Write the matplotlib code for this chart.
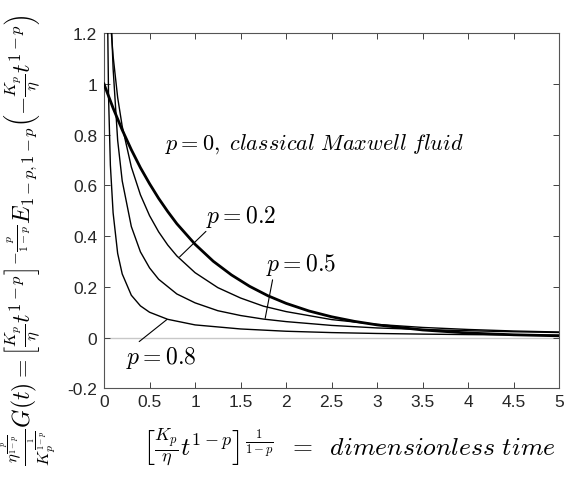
import matplotlib
matplotlib.use('Agg')
import matplotlib.pyplot as plt

# dimensionless time samples and relaxation values
x_p0 = [0, 0.1, 0.2, 0.3, 0.4, 0.5, 0.6, 0.7, 0.8, 1.0, 1.2, 1.4, 1.6, 1.8,
        2.0, 2.25, 2.5, 2.75, 3.0, 3.5, 4.0, 4.5, 5.0]
y_p0 = [1.000, 0.905, 0.819, 0.741, 0.670, 0.607, 0.549, 0.497, 0.449, 0.368,
        0.301, 0.247, 0.202, 0.165, 0.135, 0.105, 0.082, 0.064, 0.050, 0.030,
        0.018, 0.011, 0.007]

x_p02 = [0.05, 0.07, 0.1, 0.15, 0.2, 0.3, 0.4, 0.5, 0.6, 0.7, 0.8, 1.0, 1.25,
         1.5, 1.75, 2.0, 2.5, 3.0, 3.5, 4.0, 4.5, 5.0]
y_p02 = [1.390, 1.253, 1.110, 0.947, 0.833, 0.673, 0.563, 0.481, 0.417, 0.365,
         0.322, 0.256, 0.197, 0.156, 0.124, 0.1025, 0.071, 0.052, 0.040, 0.032,
         0.026, 0.022]

x_p05 = [0.07, 0.08, 0.1, 0.15, 0.2, 0.3, 0.4, 0.5, 0.6, 0.8, 1.0, 1.25, 1.5,
         1.75, 2.0, 2.5, 3.0, 3.5, 4.0, 4.5, 5.0]
y_p05 = [1.373, 1.248, 1.061, 0.778, 0.618, 0.438, 0.338, 0.275, 0.230, 0.172,
         0.137, 0.106, 0.087, 0.073, 0.063, 0.048, 0.038, 0.032, 0.027, 0.023,
         0.020]

x_p08 = [0.03, 0.05, 0.07, 0.1, 0.15, 0.2, 0.3, 0.4, 0.5, 0.7, 1.0, 1.5, 2.0,
         2.5, 3.0, 3.5, 4.0, 4.5, 5.0]
y_p08 = [1.548, 0.950, 0.680, 0.492, 0.332, 0.251, 0.167, 0.125, 0.100, 0.072,
         0.050, 0.034, 0.025, 0.0197, 0.0162, 0.0137, 0.0118, 0.0104, 0.0093]

xticks = [0, 0.5, 1, 1.5, 2, 2.5, 3, 3.5, 4, 4.5, 5]
xticklabels = ['0', '0.5', '1', '1.5', '2', '2.5', '3', '3.5', '4', '4.5', '5']
yticks = [-0.2, 0, 0.2, 0.4, 0.6, 0.8, 1.0, 1.2]
yticklabels = ['-0.2', '0', '0.2', '0.4', '0.6', '0.8', '1', '1.2']

ylab = (r'$\frac{\eta^{\frac{p}{1-p}}}{K_p^{\frac{1}{1-p}}}G(t)='
        r'\left[\frac{K_p}{\eta}t^{1-p}\right]^{-\frac{p}{1-p}}'
        r'E_{1-p,1-p}\left(-\frac{K_p}{\eta}t^{1-p}\right)$')
xlab = (r'$\left[\frac{K_p}{\eta}t^{1-p}\right]^{\frac{1}{1-p}}'
        r'\;\;=\;\;dimensionless\ time$')

plt.rcParams['mathtext.fontset'] = 'cm'
plt.rcParams['font.family'] = ['Liberation Sans', 'DejaVu Sans']

W, H = 567, 489
fig = plt.figure(figsize=(W / 100, H / 100), dpi=100)
ax = fig.add_axes([104 / W, 1 - 389.3 / H, (559.3 - 104) / W, (389.3 - 34.3) / H])

ax.axhline(0, color='#c8c8c8', lw=1.0, zorder=1)
for xs, ys in [(x_p02, y_p02), (x_p05, y_p05), (x_p08, y_p08)]:
    ax.plot(xs, ys, color='black', lw=1.0, zorder=3)
ax.plot(x_p0, y_p0, color='black', lw=2.0, zorder=4)

ax.set_xlim(0, 5)
ax.set_ylim(-0.2, 1.2)
ax.set_xticks(xticks)
ax.set_xticklabels(xticklabels)
ax.set_yticks(yticks)
ax.set_yticklabels(yticklabels)
ax.tick_params(direction='in', length=4, width=0.7, color='#404040',
               labelsize=12.5, labelcolor='#262626', top=True, right=True)
ax.tick_params(axis='x', pad=4)
ax.tick_params(axis='y', pad=5)
for sp in ax.spines.values():
    sp.set_color('#555555')
    sp.set_linewidth(0.8)

ax.text(0.67, 0.744, r'$p=0,\ classical\ Maxwell\ fluid$', fontsize=16,
        ha='left', va='baseline')
line = dict(arrowstyle='-', color='black', lw=0.8, shrinkA=0, shrinkB=0)
ax.annotate(r'$p=0.2$', xy=(0.83, 0.318), xytext=(1.12, 0.481), fontsize=17,
            ha='left', va='center', arrowprops=dict(line, relpos=(0.04, 0)))
ax.annotate(r'$p=0.5$', xy=(1.77, 0.076), xytext=(1.78, 0.290), fontsize=17,
            ha='left', va='center', arrowprops=dict(line, relpos=(0.1, 0)))
ax.annotate(r'$p=0.8$', xy=(0.69, 0.071), xytext=(0.24, -0.078), fontsize=17,
            ha='left', va='center', arrowprops=dict(line, relpos=(0.14, 1)))

fig.text(29 / W, 1 - 240 / H, ylab, rotation=90, ha='center', va='center',
         fontsize=17)
fig.text(349 / W, 1 - 447 / H, xlab, ha='center', va='center', fontsize=18.5)

fig.savefig('out.png', dpi=100)
